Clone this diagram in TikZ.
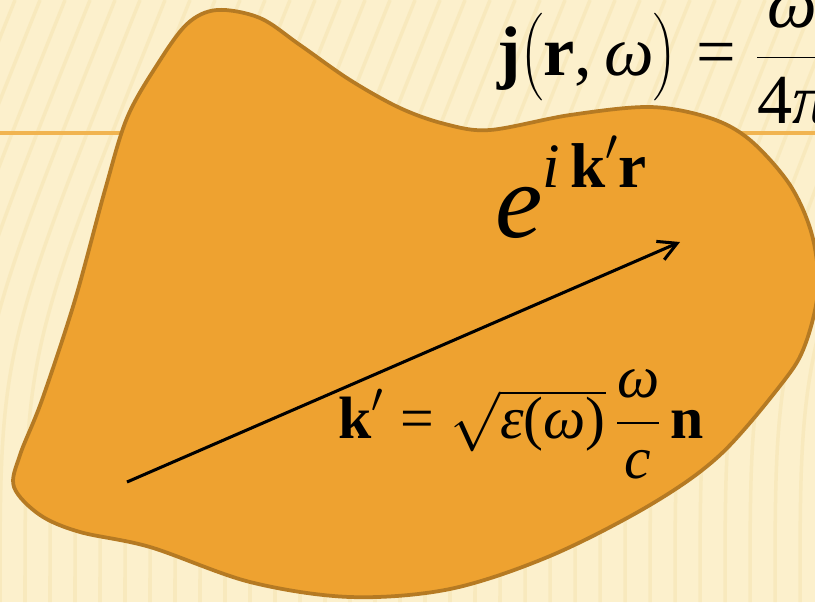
\RequirePackage{fix-cm}
\documentclass[tikz,border=0pt]{standalone}
\usepackage{amsmath}
\usepackage[no-math]{fontspec}
\setmainfont{Liberation Serif}
\usetikzlibrary{arrows.meta}
\definecolor{paper}{RGB}{252,240,204}
\definecolor{grain}{RGB}{243,224,168}
\definecolor{blobfill}{RGB}{238,162,48}
\definecolor{blobedge}{RGB}{181,122,35}
\definecolor{rulecol}{RGB}{241,180,80}
\newcommand{\vb}[1]{\textbf{#1}}
\newcommand{\tmi}[1]{\textit{#1}}
\tikzset{
  stripe/.style={draw=grain, line width=3pt, opacity=0.4},
  titlerule/.style={draw=rulecol, line width=3pt},
  blob/.style={draw=blobedge, fill=blobfill, line width=3.2pt, line join=round},
  arrow/.style={-{Straight Barb[length=5.5mm, width=6mm]}, line width=2.6pt},
  formula/.style={inner sep=0pt, anchor=base west, text=black},
}

\begin{document}
\begin{tikzpicture}[x=0.03cm, y=-0.03cm]
\useasboundingbox (0,0) rectangle (815,602);
\clip (0,0) rectangle (815,602);
% paper background with faint grain
\fill[paper] (0,0) rectangle (815,602);
\foreach \i in {-150,-125,...,820}
  \draw[stripe] (\i,602) .. controls (\i,350) .. (\i+140,0);
\draw[titlerule] (0,133) -- (815,133);
% the body
\draw[blob] plot[smooth cycle, tension=0.55] coordinates {
  (217,10) (260,18) (300,45) (350,80) (400,108) (445,124) (490,130)
  (570,115) (650,107) (710,118) (750,140) (790,185) (812,235) (818,290)
  (805,345) (783,382) (720,455) (650,505) (550,556) (450,589) (350,597)
  (250,582) (150,547) (80,532) (40,515) (14,487) (20,455) (42,400)
  (75,300) (105,190) (127,118) (157,65) (187,24)};
% formulas
\node[formula] (jeq) at (497,75)
  {\fontsize{60}{72}\selectfont
   $\vb{j}\bigl(\vb{r}\textrm{,}\,\tmi{ω}\bigr)\mathrel{\textrm{=}}\dfrac{\tmi{ω}}{\textrm{4}\tmi{π}}$};
\node[formula] (wave) at (495,237)
  {\fontsize{91}{100}\selectfont
   $\tmi{e}^{\raisebox{9pt}{\fontsize{54}{60}\selectfont $\tmi{i}\,\vb{k}'\vb{r}$}}$};
\node[formula] (keq) at (338,438)
  {\fontsize{51}{60}\selectfont
   $\vb{k}'\mathrel{\textrm{=}}\sqrt{\tmi{ε}\textrm{(}\tmi{ω}\textrm{)}}\,\dfrac{\tmi{ω}}{\tmi{c}}\,\vb{n}$};
% wave vector
\coordinate (ktail) at (127,482);
\coordinate (khead) at (680,242);
\draw[arrow] (ktail) -- (khead);
\end{tikzpicture}
\end{document}
